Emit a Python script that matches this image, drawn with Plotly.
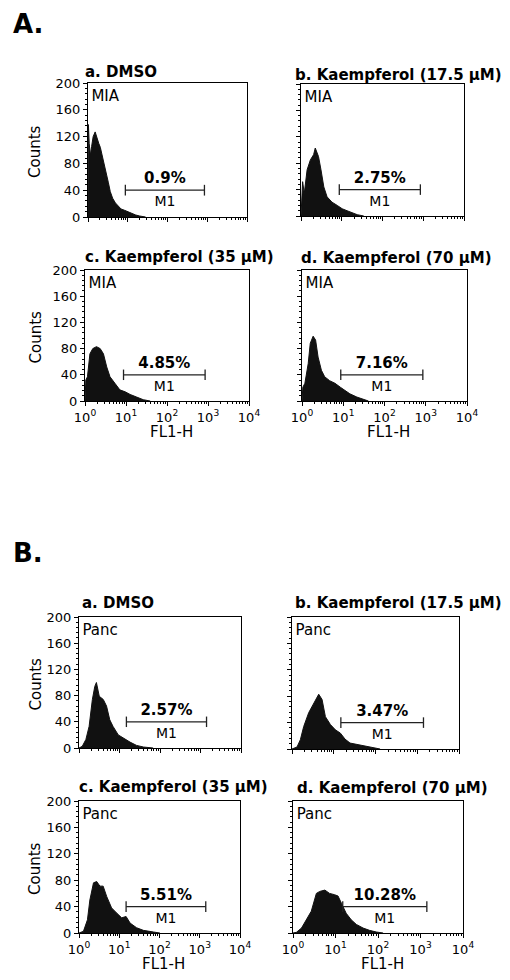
import plotly.graph_objects as go

# ---------------- data (FL1-H as log10 channel, counts) ----------------
mia_dmso_log = [0.0, 0.01, 0.03, 0.06, 0.09, 0.13, 0.18, 0.22, 0.27, 0.31, 0.36, 0.41, 0.46, 0.51,
                0.56, 0.62, 0.69, 0.76, 0.83, 0.92, 1.0, 1.1, 1.2, 1.3, 1.45]
mia_dmso_cnt = [0, 138, 110, 92, 105, 120, 127, 118, 110, 104, 92, 80, 66, 52,
                38, 28, 21, 16, 12, 10, 8, 5, 3, 1.5, 0]

mia_k175_log = [0.0, 0.04, 0.08, 0.15, 0.23, 0.31, 0.35, 0.43, 0.49, 0.56, 0.64, 0.76, 0.89,
                1.01, 1.13, 1.25, 1.38, 1.54]
mia_k175_cnt = [0, 52, 34, 70, 85, 93, 103, 90, 70, 44, 29, 21, 16, 11, 8, 5, 2, 0]

mia_k35_log = [0.0, 0.02, 0.06, 0.08, 0.12, 0.19, 0.28, 0.37, 0.45, 0.53, 0.61, 0.73, 0.85,
               0.98, 1.10, 1.26, 1.42, 1.59]
mia_k35_cnt = [0, 32, 37, 47, 72, 80, 83, 80, 72, 52, 37, 27, 17, 14, 10, 6, 2, 0]

mia_k70_log = [0.0, 0.02, 0.07, 0.15, 0.20, 0.27, 0.33, 0.39, 0.47, 0.55, 0.67, 0.80, 0.93,
               1.04, 1.16, 1.33, 1.49, 1.61]
mia_k70_cnt = [0, 21, 27, 57, 88, 99, 93, 67, 47, 37, 31, 27, 21, 16, 11, 6, 2, 0]

panc_dmso_log = [0.0, 0.08, 0.17, 0.25, 0.33, 0.39, 0.43, 0.50, 0.60, 0.68, 0.76, 0.84, 0.97,
                 1.09, 1.26, 1.42, 1.59, 1.83]
panc_dmso_cnt = [0, 2.5, 13, 33, 74, 94, 100, 79, 74, 64, 43, 33, 20, 15, 9, 4, 1.5, 0]

panc_k175_log = [0.0, 0.12, 0.20, 0.28, 0.40, 0.52, 0.64, 0.72, 0.80, 0.92, 1.04, 1.16, 1.27,
                 1.39, 1.55, 1.75, 1.95, 2.11]
panc_k175_cnt = [0, 3, 14, 34, 55, 70, 83, 75, 49, 37, 29, 24, 15, 9, 7, 4, 1.5, 0]

panc_k35_log = [0.0, 0.11, 0.21, 0.27, 0.36, 0.44, 0.52, 0.60, 0.69, 0.81, 0.94, 1.06, 1.17,
                1.27, 1.43, 1.60, 1.85, 2.01]
panc_k35_cnt = [0, 2.5, 20, 50, 76, 78, 71, 71, 55, 38, 30, 23, 25, 15, 8, 4, 1.5, 0]

panc_k70_log = [0.0, 0.08, 0.20, 0.31, 0.43, 0.55, 0.63, 0.75, 0.86, 0.98, 1.06, 1.14, 1.25,
                1.37, 1.49, 1.65, 1.80, 1.96, 2.12]
panc_k70_cnt = [0, 1, 7.5, 20, 33, 60, 63, 65, 60, 58, 56, 45, 30, 20, 13, 7.5, 4, 1.5, 0]

hist_logs = [mia_dmso_log, mia_k175_log, mia_k35_log, mia_k70_log,
             panc_dmso_log, panc_k175_log, panc_k35_log, panc_k70_log]
hist_cnts = [mia_dmso_cnt, mia_k175_cnt, mia_k35_cnt, mia_k70_cnt,
             panc_dmso_cnt, panc_k175_cnt, panc_k35_cnt, panc_k70_cnt]

panel_titles = ["a. DMSO", "b. Kaempferol (17.5 μM)", "c. Kaempferol (35 μM)", "d. Kaempferol (70 μM)",
                "a. DMSO", "b. Kaempferol (17.5 μM)", "c. Kaempferol (35 μM)", "d. Kaempferol (70 μM)"]
cell_lines = ["MIA", "MIA", "MIA", "MIA", "Panc", "Panc", "Panc", "Panc"]
gate_pct = ["0.9%", "2.75%", "4.85%", "7.16%", "2.57%", "3.47%", "5.51%", "10.28%"]
gate_name = "M1"
gate_A = [8.7, 850]
gate_B = [14.8, 1410]
gate_level = 40
gates = [gate_A] * 4 + [gate_B] * 4

y_tick_vals = [0, 40, 80, 120, 160, 200]
y_minor_vals = [v for v in range(0, 201, 8) if v % 40 != 0]
x_tick_vals = [1, 10, 100, 1000, 10000]
x_tick_text = ["10<sup>0</sup>", "10<sup>1</sup>", "10<sup>2</sup>", "10<sup>3</sup>", "10<sup>4</sup>"]
x_minor_vals = [k * 10 ** d for d in range(4) for k in range(2, 10)]

# ---------------- layout geometry (page pixels) ----------------
PAGE_W, PAGE_H = 510, 980
BODY = 8                      # default page body margin around the figure div
W, H = PAGE_W - 2 * BODY, PAGE_H - 2 * BODY
# (left, right, top, bottom) of each plot box, in page pixels
boxes = [(88, 247, 83, 217), (301, 464, 84, 216), (85, 249, 270, 401), (302, 467, 270, 401),
         (79, 241, 617, 748), (292, 459, 617, 749), (79, 240, 801, 933), (293, 463, 801, 933)]
title_pos = [(83, 72), (293, 75), (83, 257), (299, 258),
             (80, 603), (293, 603), (77, 787), (295, 788)]
left_col = [True, False, True, False, True, False, True, False]
bottom_row = [False, False, True, True, False, False, True, True]

FONT = "DejaVu Sans"

def px(x):
    return (x - BODY) / W

def py(y):
    return 1 - (y - BODY) / H

fig = go.Figure()
layout = dict(width=W, height=H, margin=dict(l=0, r=0, t=0, b=0, autoexpand=False),
              paper_bgcolor="white", plot_bgcolor="white", showlegend=False,
              font=dict(family=FONT, color="black"))
annotations = []

for i in range(8):
    n = i + 1
    xa = "x" if n == 1 else f"x{n}"
    ya = "y" if n == 1 else f"y{n}"
    l, r, t, b = boxes[i]
    xs = [10 ** v for v in hist_logs[i]]
    fig.add_trace(go.Scatter(x=xs, y=hist_cnts[i], mode="lines", fill="tozeroy",
                             fillcolor="#111111", line=dict(color="#111111", width=1),
                             xaxis=xa, yaxis=ya, hoverinfo="skip"))
    g0, g1 = gates[i]
    fig.add_trace(go.Scatter(x=[g0, g0, None, g0, g1, None, g1, g1],
                             y=[gate_level - 8, gate_level + 8, None, gate_level, gate_level, None,
                                gate_level - 8, gate_level + 8],
                             mode="lines", line=dict(color="#222222", width=1.3),
                             xaxis=xa, yaxis=ya, hoverinfo="skip"))
    gm = (g0 * g1) ** 0.5
    fig.add_trace(go.Scatter(x=[gm], y=[gate_level + 16], mode="text",
                             text=[f"<b>{gate_pct[i]}</b>"], textposition="middle center",
                             textfont=dict(size=15, family=FONT, color="black"),
                             xaxis=xa, yaxis=ya, hoverinfo="skip"))
    fig.add_trace(go.Scatter(x=[gm], y=[gate_level - 19], mode="text",
                             text=[gate_name], textposition="middle center",
                             textfont=dict(size=14, family=FONT, color="black"),
                             xaxis=xa, yaxis=ya, hoverinfo="skip"))
    fig.add_trace(go.Scatter(x=[1.22], y=[178], mode="text",
                             text=[cell_lines[i]], textposition="middle right",
                             textfont=dict(size=15, family=FONT, color="black"),
                             xaxis=xa, yaxis=ya, hoverinfo="skip"))

    layout["xaxis" if n == 1 else f"xaxis{n}"] = dict(
        domain=[px(l), px(r)], anchor=ya, type="log", range=[0, 4], automargin=False,
        showline=True, mirror=True, linecolor="black", linewidth=1,
        ticks="outside", ticklen=4, tickwidth=1, tickcolor="black",
        tickvals=x_tick_vals, ticktext=x_tick_text, showticklabels=bottom_row[i],
        tickfont=dict(size=13, family=FONT, color="black"),
        minor=dict(ticks="outside", ticklen=2, tickcolor="black", tickvals=x_minor_vals),
        showgrid=False, zeroline=False, fixedrange=True)
    layout["yaxis" if n == 1 else f"yaxis{n}"] = dict(
        domain=[py(b), py(t)], anchor=xa, range=[0, 200], automargin=False,
        showline=True, mirror=True, linecolor="black", linewidth=1,
        ticks="outside", ticklen=4, tickwidth=1, tickcolor="black",
        tickvals=y_tick_vals, showticklabels=left_col[i],
        tickfont=dict(size=13, family=FONT, color="black"),
        minor=dict(ticks="outside", ticklen=2, tickcolor="black", tickvals=y_minor_vals),
        showgrid=False, zeroline=False, fixedrange=True)

    tx, ty = title_pos[i]
    annotations.append(dict(text=f"<b>{panel_titles[i]}</b>", x=px(tx), y=py(ty),
                            xref="paper", yref="paper", xanchor="left", yanchor="middle",
                            showarrow=False, font=dict(size=15, family=FONT, color="black")))
    if left_col[i]:
        annotations.append(dict(text="Counts", x=px(35), y=py((t + b) / 2 + 2),
                                xref="paper", yref="paper", xanchor="center", yanchor="middle",
                                textangle=-90, showarrow=False,
                                font=dict(size=15, family=FONT, color="black")))
    if bottom_row[i]:
        annotations.append(dict(text="FL1-H", x=px((l + r) / 2 + 4), y=py(b + 31),
                                xref="paper", yref="paper", xanchor="center", yanchor="middle",
                                showarrow=False, font=dict(size=15, family=FONT, color="black")))

annotations.append(dict(text="<b>A.</b>", x=px(11), y=py(24), xref="paper", yref="paper",
                        xanchor="left", yanchor="middle", showarrow=False,
                        font=dict(size=26, family=FONT, color="black")))
annotations.append(dict(text="<b>B.</b>", x=px(11), y=py(553), xref="paper", yref="paper",
                        xanchor="left", yanchor="middle", showarrow=False,
                        font=dict(size=26, family=FONT, color="black")))
layout["annotations"] = annotations
fig.update_layout(**layout)
fig.write_html("out.html")
